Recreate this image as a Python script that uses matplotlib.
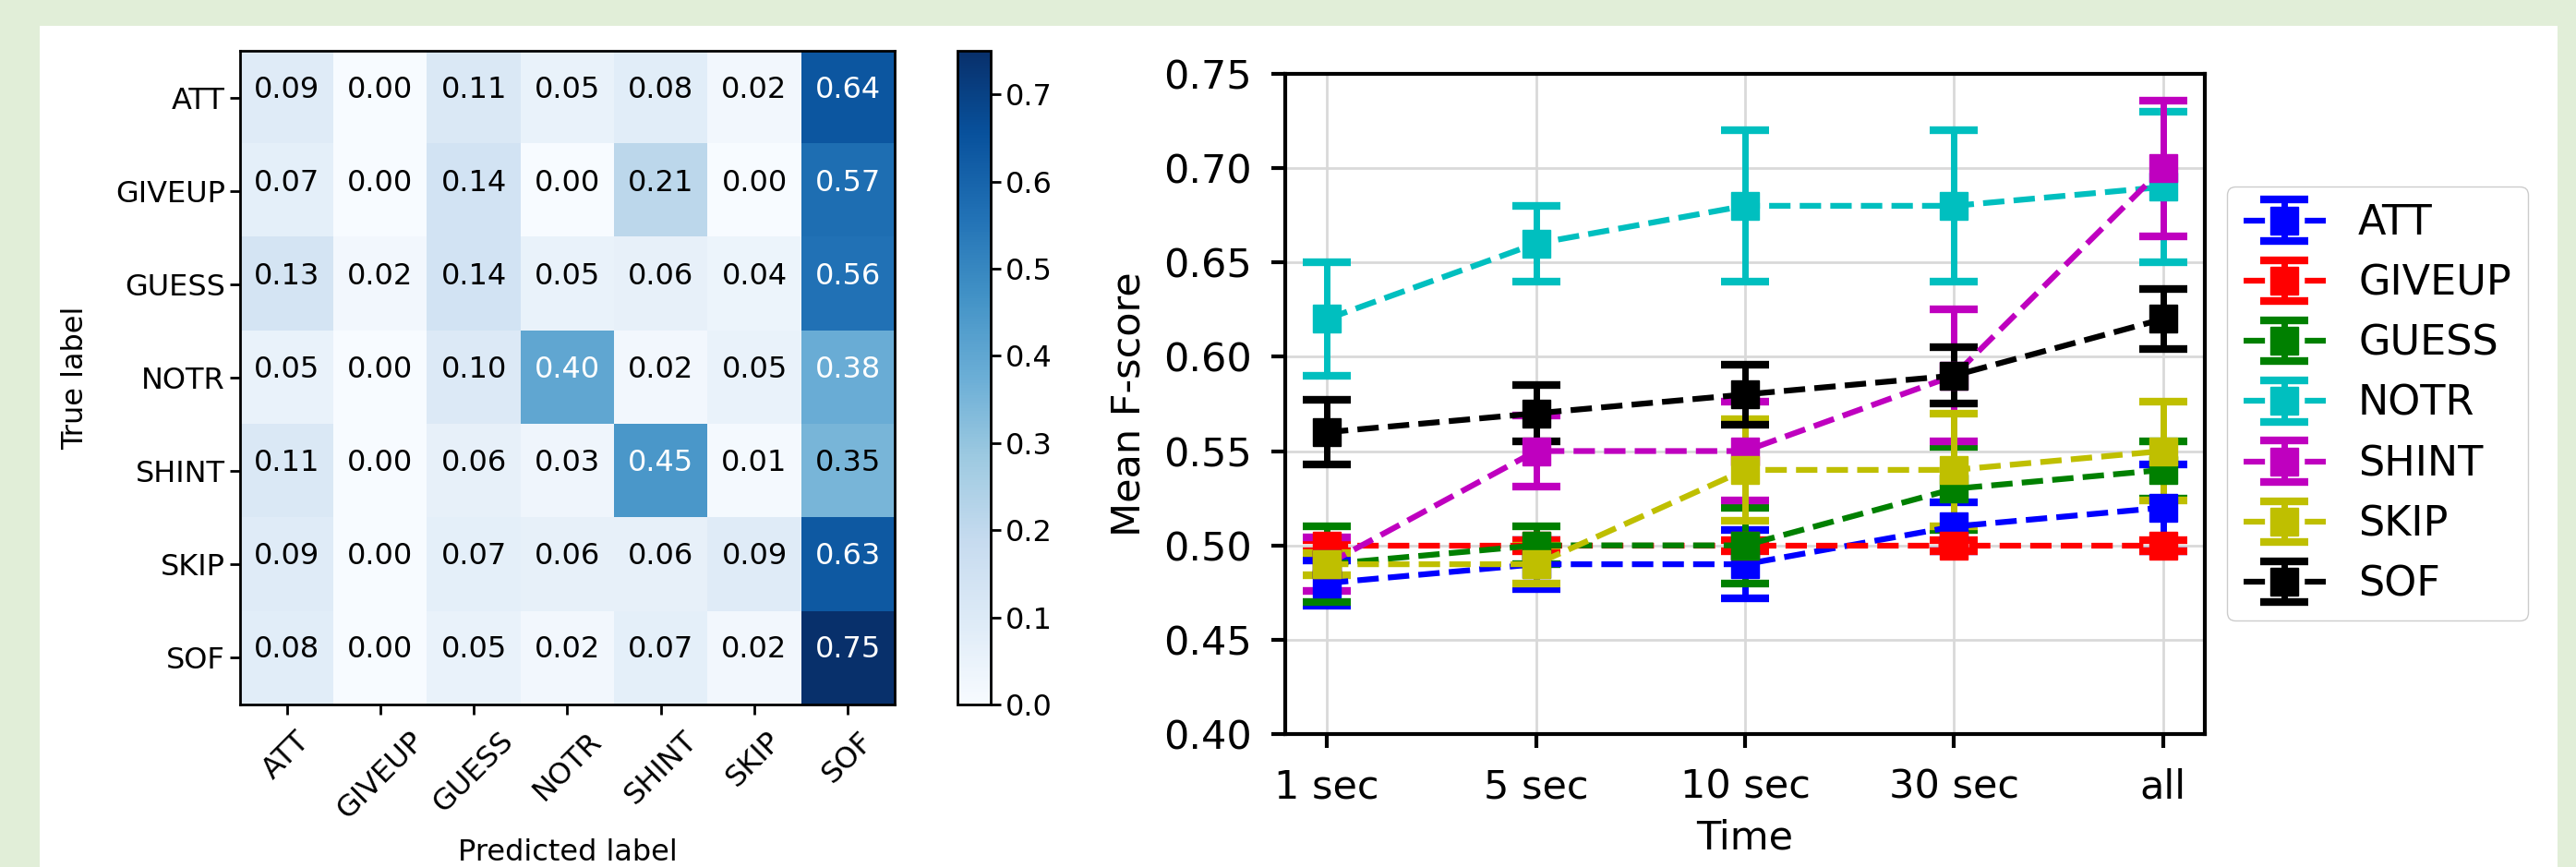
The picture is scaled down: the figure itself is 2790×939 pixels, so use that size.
"""Confusion matrix and mean F-score over time, side by side."""

import matplotlib
matplotlib.use("Agg")
import matplotlib.pyplot as plt
from matplotlib.patches import Rectangle
import numpy as np

LABELS = ["ATT", "GIVEUP", "GUESS", "NOTR", "SHINT", "SKIP", "SOF"]

CONFUSION = [
    [0.09, 0.00, 0.11, 0.05, 0.08, 0.02, 0.64],
    [0.07, 0.00, 0.14, 0.00, 0.21, 0.00, 0.57],
    [0.13, 0.02, 0.14, 0.05, 0.06, 0.04, 0.56],
    [0.05, 0.00, 0.10, 0.40, 0.02, 0.05, 0.38],
    [0.11, 0.00, 0.06, 0.03, 0.45, 0.01, 0.35],
    [0.09, 0.00, 0.07, 0.06, 0.06, 0.09, 0.63],
    [0.08, 0.00, 0.05, 0.02, 0.07, 0.02, 0.75],
]

TIMES = ["1 sec", "5 sec", "10 sec", "30 sec", "all"]

MEAN_F = {
    "ATT":    [0.48, 0.49, 0.49, 0.51, 0.52],
    "GIVEUP": [0.50, 0.50, 0.50, 0.50, 0.50],
    "GUESS":  [0.49, 0.50, 0.50, 0.53, 0.54],
    "NOTR":   [0.62, 0.66, 0.68, 0.68, 0.69],
    "SHINT":  [0.49, 0.55, 0.55, 0.59, 0.70],
    "SKIP":   [0.49, 0.49, 0.54, 0.54, 0.55],
    "SOF":    [0.56, 0.57, 0.58, 0.59, 0.62],
}

ERR_F = {
    "ATT":    [0.012, 0.013, 0.018, 0.013, 0.023],
    "GIVEUP": [0.003, 0.003, 0.003, 0.003, 0.003],
    "GUESS":  [0.020, 0.010, 0.020, 0.022, 0.015],
    "NOTR":   [0.030, 0.020, 0.040, 0.040, 0.040],
    "SHINT":  [0.014, 0.019, 0.026, 0.035, 0.036],
    "SKIP":   [0.006, 0.010, 0.027, 0.030, 0.026],
    "SOF":    [0.017, 0.015, 0.016, 0.015, 0.016],
}

COLORS = {"ATT": "b", "GIVEUP": "r", "GUESS": "g", "NOTR": "c",
          "SHINT": "m", "SKIP": "y", "SOF": "k"}

fig = plt.figure(figsize=(27.9, 9.39), dpi=100, facecolor="#e1eed8")
fig.patches.append(Rectangle((43 / 2790, 0), (2770 - 43) / 2790, (939 - 28) / 939,
                             transform=fig.transFigure, facecolor="white",
                             edgecolor="none", zorder=-10))

# confusion matrix
cm = np.array(CONFUSION)
ax1 = fig.add_axes([0.0932, 0.1874, 0.2541, 0.754])
cax = fig.add_axes([0.3717, 0.1874, 0.0129, 0.754])
im = ax1.imshow(cm, interpolation="nearest", cmap=plt.cm.Blues, aspect="auto")
cb = fig.colorbar(im, cax=cax)
cb.outline.set_linewidth(2)
cb.ax.tick_params(labelsize=23, length=8, width=2)

thresh = cm.max() / 2.0
for i in range(cm.shape[0]):
    for j in range(cm.shape[1]):
        ax1.text(j, i, f"{cm[i, j]:.2f}", ha="center", va="baseline",
                 fontsize=23, color="white" if cm[i, j] > thresh else "black")

ticks = np.arange(len(LABELS))
ax1.set_xticks(ticks)
ax1.set_xticklabels(LABELS, rotation=45, ha="center")
ax1.set_yticks(ticks)
ax1.set_yticklabels(LABELS)
ax1.tick_params(labelsize=23, length=8, width=2)
ax1.tick_params(axis="x", pad=9)
for s in ax1.spines.values():
    s.set_linewidth(2)
ax1.set_ylabel("True label", fontsize=23, labelpad=20)
ax1.set_xlabel("Predicted label", fontsize=23, labelpad=11)

# mean F-score over time
ax2 = fig.add_axes([0.4989, 0.1534, 0.357, 0.7615])
x = np.arange(len(TIMES))
for name in LABELS:
    ax2.errorbar(x, MEAN_F[name], yerr=ERR_F[name], fmt="s--",
                 color=COLORS[name], markersize=22, linewidth=4.5,
                 elinewidth=5, capsize=19, capthick=6, label=name)
ax2.set_ylim(0.40, 0.75)
ax2.set_yticks([0.40, 0.45, 0.50, 0.55, 0.60, 0.65, 0.70, 0.75])
ax2.set_xticks(x)
ax2.set_xticklabels(TIMES)
ax2.grid(True, color="#d9d9d9", linewidth=2)
ax2.set_axisbelow(True)
ax2.tick_params(labelsize=31, length=11, width=3, pad=15)
for s in ax2.spines.values():
    s.set_linewidth(3)
ax2.set_ylabel("Mean F-score", fontsize=31, labelpad=12)
ax2.set_xlabel("Time", fontsize=31, labelpad=10)
ax2.legend(loc="center left", bbox_to_anchor=(1.024, 0.5), borderaxespad=0,
           fontsize=32, frameon=True, edgecolor="#cccccc", framealpha=1)

fig.savefig("out.png", dpi=100, facecolor=fig.get_facecolor())
